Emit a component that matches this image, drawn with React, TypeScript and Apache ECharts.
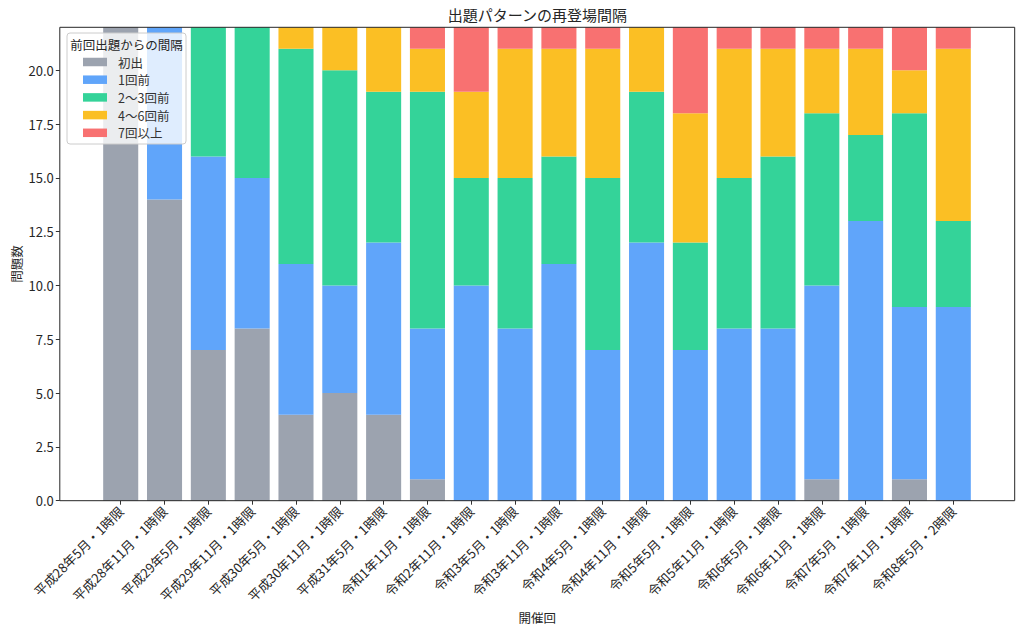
import React, { useEffect, useRef } from "react";
import * as echarts from "echarts";

const categories = [
  "平成28年5月・1時限",
  "平成28年11月・1時限",
  "平成29年5月・1時限",
  "平成29年11月・1時限",
  "平成30年5月・1時限",
  "平成30年11月・1時限",
  "平成31年5月・1時限",
  "令和1年11月・1時限",
  "令和2年11月・1時限",
  "令和3年5月・1時限",
  "令和3年11月・1時限",
  "令和4年5月・1時限",
  "令和4年11月・1時限",
  "令和5年5月・1時限",
  "令和5年11月・1時限",
  "令和6年5月・1時限",
  "令和6年11月・1時限",
  "令和7年5月・1時限",
  "令和7年11月・1時限",
  "令和8年5月・2時限",
];

const seriesNames = ["初出", "1回前", "2〜3回前", "4〜6回前", "7回以上"];
const seriesColors = ["#9CA3AF", "#60A5FA", "#34D399", "#FBBF24", "#F87171"];

const firstTime = [22, 14, 7, 8, 4, 5, 4, 1, 0, 0, 0, 0, 0, 0, 0, 0, 1, 0, 1, 0];
const prev1 = [0, 8, 9, 7, 7, 5, 8, 7, 10, 8, 11, 7, 12, 7, 8, 8, 9, 13, 8, 9];
const prev2to3 = [0, 0, 6, 7, 10, 10, 7, 11, 5, 7, 5, 8, 7, 5, 7, 8, 8, 4, 9, 4];
const prev4to6 = [0, 0, 0, 0, 1, 2, 3, 2, 4, 6, 5, 6, 3, 6, 6, 5, 3, 4, 2, 8];
const prev7plus = [0, 0, 0, 0, 0, 0, 0, 1, 3, 1, 1, 1, 0, 4, 1, 1, 1, 1, 2, 1];

const seriesData = [firstTime, prev1, prev2to3, prev4to6, prev7plus];

const yMax = 22;
const yInterval = 2.5;

const FONT = "'Noto Sans CJK JP', 'Noto Sans', sans-serif";

export default function App() {
  const ref = useRef<HTMLDivElement>(null);

  useEffect(() => {
    if (!ref.current) return;
    const chart = echarts.init(ref.current, null, { renderer: "svg" });

    const frameL = 59.8;
    const frameR = 1014.7;
    const frameT = 27.3;
    const frameB = 500.7;
    const gridL = 98.8;
    const gridR = 975.2;

    const option: any = {
      animation: false,
      backgroundColor: "#ffffff",
      textStyle: { fontFamily: FONT },
      grid: {
        left: gridL,
        right: 1024 - gridR,
        top: frameT,
        bottom: 632 - frameB,
        containLabel: false,
      },
      legend: {
        orient: "vertical",
        left: 83,
        top: 55,
        padding: 0,
        icon: "rect",
        itemWidth: 24,
        itemHeight: 8.5,
        itemGap: 3.7,
        selectedMode: false,
        z: 6,
        data: seriesNames,
        textStyle: {
          fontFamily: FONT,
          fontSize: 12.5,
          color: "#333333",
          lineHeight: 14,
          padding: [0, 0, 0, 6],
        },
      },
      xAxis: {
        type: "category",
        data: categories,
        boundaryGap: true,
        axisLine: { show: false },
        axisTick: {
          show: true,
          alignWithLabel: true,
          length: 4,
          lineStyle: { color: "#333333", width: 1 },
        },
        axisLabel: {
          interval: 0,
          rotate: 45,
          margin: 8,
          fontSize: 13,
          fontFamily: FONT,
          color: "#262626",
        },
        splitLine: { show: false },
      },
      yAxis: {
        type: "value",
        min: 0,
        max: yMax,
        interval: yInterval,
        offset: gridL - frameL,
        axisLine: { show: false },
        axisTick: {
          show: true,
          length: 4,
          lineStyle: { color: "#333333", width: 1 },
        },
        axisLabel: {
          margin: 6,
          fontSize: 13,
          fontFamily: FONT,
          color: "#262626",
          showMaxLabel: false,
          formatter: (v: number) => v.toFixed(1),
        },
        splitLine: { show: false },
      },
      series: seriesNames.map((name, i) => ({
        name,
        type: "bar",
        stack: "total",
        barWidth: "80%",
        data: seriesData[i],
        itemStyle: { color: seriesColors[i] },
        emphasis: { disabled: true },
      })),
      graphic: [
        {
          type: "rect",
          z: 3,
          silent: true,
          shape: { x: 67, y: 33, width: 119, height: 111, r: 3 },
          style: {
            fill: "rgba(255,255,255,0.8)",
            stroke: "#cccccc",
            lineWidth: 1,
          },
        },
        {
          type: "text",
          z: 7,
          silent: true,
          x: 126.5,
          y: 44,
          style: {
            text: "前回出題からの間隔",
            font: `12.5px ${FONT}`,
            fill: "#262626",
            align: "center",
            verticalAlign: "middle",
          },
        },
        {
          type: "rect",
          z: 8,
          silent: true,
          shape: {
            x: frameL,
            y: frameT,
            width: frameR - frameL,
            height: frameB - frameT,
          },
          style: { fill: "none", stroke: "#262626", lineWidth: 1 },
        },
        {
          type: "text",
          z: 8,
          silent: true,
          x: (frameL + frameR) / 2,
          y: 14,
          style: {
            text: "出題パターンの再登場間隔",
            font: `15px ${FONT}`,
            fill: "#262626",
            align: "center",
            verticalAlign: "middle",
          },
        },
        {
          type: "text",
          z: 8,
          silent: true,
          x: (frameL + frameR) / 2,
          y: 617,
          style: {
            text: "開催回",
            font: `12.5px ${FONT}`,
            fill: "#262626",
            align: "center",
            verticalAlign: "middle",
          },
        },
        {
          type: "text",
          z: 8,
          silent: true,
          x: 16,
          y: (frameT + frameB) / 2,
          rotation: Math.PI / 2,
          style: {
            text: "問題数",
            font: `12.5px ${FONT}`,
            fill: "#262626",
            align: "center",
            verticalAlign: "middle",
          },
        },
      ],
    };

    chart.setOption(option);
    return () => {
      chart.dispose();
    };
  }, []);

  return (
    <div
      ref={ref}
      style={{ position: "fixed", left: 0, top: 0, width: 1024, height: 632 }}
    />
  );
}
